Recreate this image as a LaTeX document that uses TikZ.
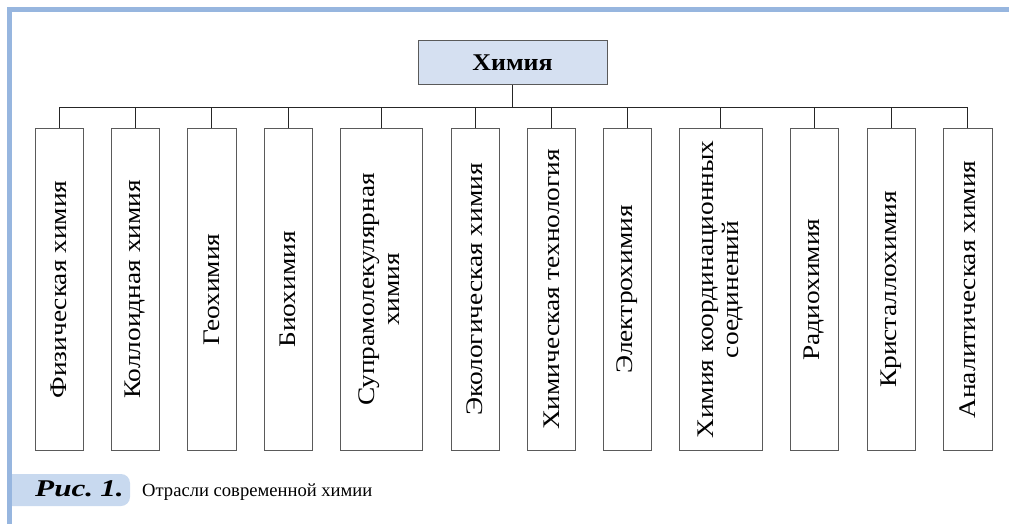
\documentclass[tikz,border=0pt]{standalone}
\usepackage{fontspec}
\setmainfont{Liberation Serif}
\newfontfamily\widefont[FakeStretch=1.15]{Liberation Serif}
\newfontfamily\topfont[FakeStretch=1.08]{Liberation Serif}
\newfontfamily\capfont[FakeStretch=1.3]{Liberation Serif}
\usetikzlibrary{positioning}
\definecolor{frameblue}{HTML}{97B6DF}
\definecolor{topfill}{HTML}{D5E0F1}
\definecolor{tabfill}{HTML}{C8D9EF}
\definecolor{boxgray}{HTML}{5A5A5A}
\begin{document}
\begin{tikzpicture}[x=1pt,y=-1pt,
  branch/.style={draw=boxgray, line width=1pt, inner sep=0pt, minimum height=322pt, font=\widefont\fontsize{23.8}{25}\selectfont},
  topbox/.style={draw=boxgray, fill=topfill, line width=1pt, minimum width=189pt, minimum height=44pt, font=\topfont\bfseries\fontsize{24}{26}\selectfont},
  conn/.style={draw=black!85, line width=0.8pt}]
\useasboundingbox (0,0) rectangle (1009,524);
% frame
\fill[frameblue] (7,7) rectangle (1009,12);
\fill[frameblue] (7,7) rectangle (12,524);
% caption tab
\begin{scope}
\clip (12,0) rectangle (300,524);
\fill[tabfill, rounded corners=9pt] (0,474) rectangle (130,506);
\end{scope}
\node[anchor=base west, inner sep=0pt, font=\capfont\bfseries\itshape\fontsize{24}{26}\selectfont] (cap) at (35,496) {Рис.\hspace{7pt}1.};
\node[anchor=base west, inner sep=0pt, font=\fontsize{18.6}{22}\selectfont] (captext) at (142,496) {Отрасли современной химии};
% top node
\node[topbox] (top) at (512.5,63) {Химия};
% branches
\node[branch, minimum width=48pt] (b1) at (59,289.5) {\rotatebox{90}{Физическая химия}};
\node[branch, minimum width=48pt] (b2) at (135,289.5) {\rotatebox{90}{Коллоидная химия}};
\node[branch, minimum width=49pt] (b3) at (211.5,289.5) {\rotatebox{90}{Геохимия}};
\node[branch, minimum width=48pt] (b4) at (288,289.5) {\rotatebox{90}{Биохимия}};
\node[branch, minimum width=82pt] (b5) at (381.5,289.5) {\rotatebox{90}{\begin{tabular}{@{}c@{}}Супрамолекулярная\\[0pt] химия\end{tabular}}};
\node[branch, minimum width=48pt] (b6) at (475,289.5) {\rotatebox{90}{Экологическая химия}};
\node[branch, minimum width=48pt] (b7) at (551.5,289.5) {\rotatebox{90}{Химическая технология}};
\node[branch, minimum width=48pt] (b8) at (627.5,289.5) {\rotatebox{90}{Электрохимия}};
\node[branch, minimum width=83pt] (b9) at (720.5,289.5) {\rotatebox{90}{\begin{tabular}{@{}c@{}}Химия координационных\\[0pt] соединений\end{tabular}}};
\node[branch, minimum width=48pt] (b10) at (814,289.5) {\rotatebox{90}{Радиохимия}};
\node[branch, minimum width=48pt] (b11) at (891,289.5) {\rotatebox{90}{Кристаллохимия}};
\node[branch, minimum width=49pt] (b12) at (967.5,289.5) {\rotatebox{90}{Аналитическая химия}};
% connectors
\coordinate (hl) at (59,107);
\coordinate (hr) at (967.5,107);
\draw[conn] (hl) -- (hr);
\draw[conn] (top.south) -- (top.south |- hl);
\foreach \i in {1,...,12}{
  \draw[conn] (b\i.north) -- (b\i.north |- hl);
}
\end{tikzpicture}
\end{document}
